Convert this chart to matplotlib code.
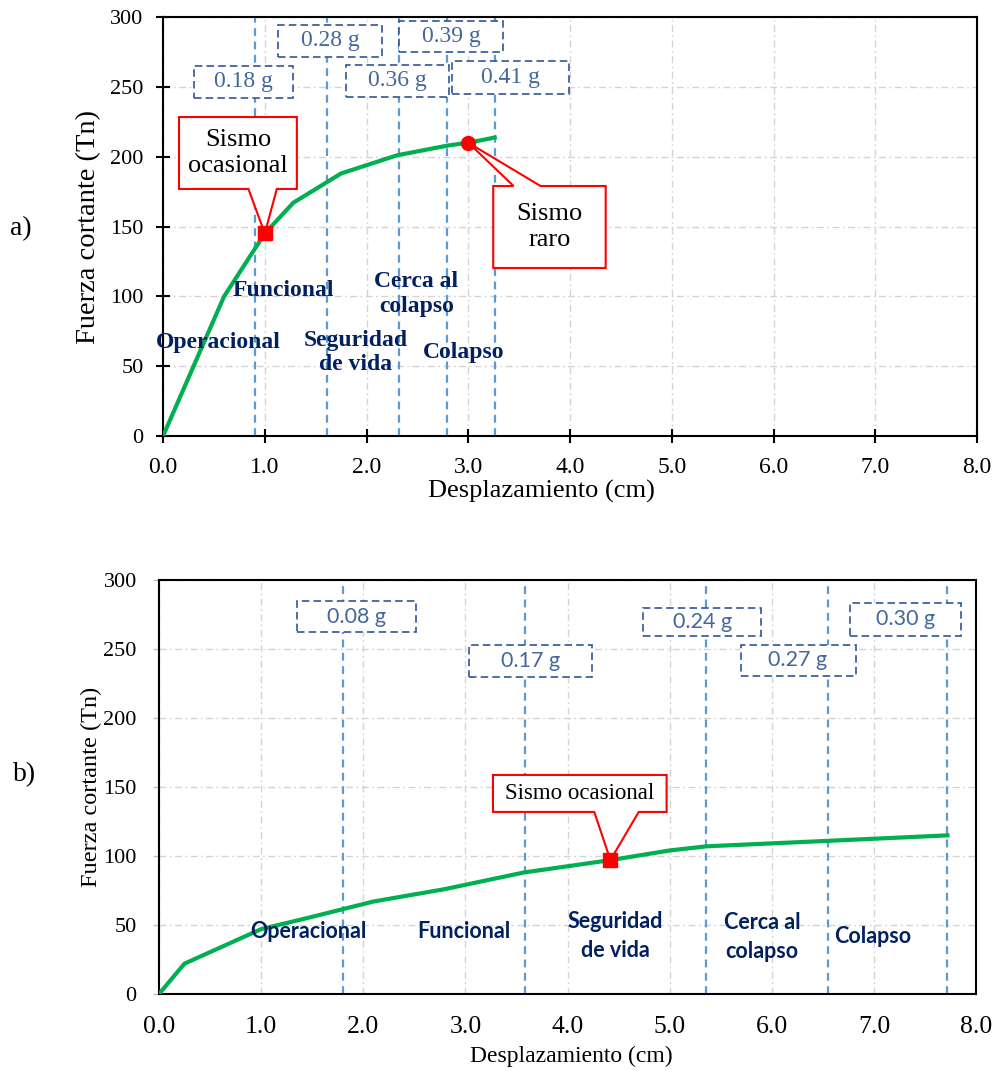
import matplotlib
matplotlib.use("Agg")
import matplotlib.pyplot as plt
from matplotlib.patches import Rectangle, Polygon

# ---------------- data ----------------
# Panel a: capacity curve
disp_a = [0.0, 0.6, 1.0, 1.28, 1.75, 2.3, 2.8, 3.0, 3.28]
shear_a = [0, 100, 145, 167, 188, 201, 208, 210, 214]
limits_a = [0.905, 1.61, 2.32, 2.79, 3.26]
pga_a = ["0.18 g", "0.28 g", "0.36 g", "0.39 g", "0.41 g"]
occasional_a = (1.0, 145)
rare_a = (3.0, 210)

# Panel b: capacity curve
disp_b = [0.0, 0.25, 1.0, 1.45, 2.1, 2.8, 3.57, 4.42, 5.0, 5.36, 6.56, 7.74]
shear_b = [0, 22, 47, 55, 67, 76, 88, 97, 104, 107, 111, 115]
limits_b = [1.80, 3.58, 5.36, 6.55, 7.72]
pga_b = ["0.08 g", "0.17 g", "0.24 g", "0.27 g", "0.30 g"]
occasional_b = (4.42, 97)

states = ["Operacional", "Funcional", "Seguridad\nde vida", "Cerca al\ncolapso", "Colapso"]
x_ticks = [0, 1, 2, 3, 4, 5, 6, 7, 8]
y_ticks = [0, 50, 100, 150, 200, 250, 300]
x_label = "Desplazamiento (cm)"
y_label = "Fuerza cortante (Tn)"

# ---------------- styles ----------------
SERIF = "Liberation Serif"
SANS = "Lato"
GREEN = "#00b050"
LIMIT_BLUE = "#5b9bd5"
BOX_EDGE = "#2f5597"
BOX_TEXT = "#44679a"
STATE_COLOR = "#002060"
GRID = "#d4d4d4"

# layout of the PGA boxes: centre x, centre y, width, height (data units)
box_a = [(0.79, 253.6, 0.98, 22.7), (1.64, 283.0, 1.02, 22.7),
         (2.305, 254.3, 1.01, 22.7), (2.83, 286.0, 1.02, 22.7),
         (3.415, 256.6, 1.15, 23.8)]
box_b = [(1.93, 273.2, 1.165, 22.5), (3.635, 241.3, 1.2, 23.2),
         (5.32, 269.6, 1.155, 20.3), (6.257, 241.7, 1.125, 22.5),
         (7.31, 271.4, 1.085, 23.9)]
# positions of the performance-state labels
state_pos_a = [(0.54, 66.6), (1.18, 104.5), (1.89, 60.0), (2.49, 101.7), (2.95, 60.0)]
state_pos_b = [(1.467, 45.1), (2.99, 45.0), (4.47, 42.0), (5.906, 41.3), (6.99, 41.5)]

fig = plt.figure(figsize=(9.96, 10.71), dpi=100)
ax_a = fig.add_axes([0.1637, 0.5929, 0.8173, 0.3912])
ax_b = fig.add_axes([0.1596, 0.0719, 0.8204, 0.3866])


def pga_box(ax, label, cx, cy, w, h, font, size):
    ax.add_patch(Rectangle((cx - w / 2, cy - h / 2), w, h, facecolor="white",
                           edgecolor=BOX_EDGE, linewidth=1.2,
                           linestyle=(0, (4.5, 2.5)), zorder=5))
    ax.text(cx, cy, label, ha="center", va="center", color=BOX_TEXT,
            fontsize=size, family=font, zorder=6)


def callout(ax, text, x0, y0, x1, y1, base, tip, side, size, spacing):
    if side == "bottom":
        pts = [(x0, y0), (base[0], y0), tip, (base[1], y0), (x1, y0),
               (x1, y1), (x0, y1)]
    else:
        pts = [(x0, y1), (base[0], y1), tip, (base[1], y1), (x1, y1),
               (x1, y0), (x0, y0)]
    ax.add_patch(Polygon(pts, closed=True, facecolor="white",
                         edgecolor="#ff0000", linewidth=1.5, zorder=7))
    ax.text((x0 + x1) / 2, (y0 + y1) / 2, text, ha="center", va="center",
            fontsize=size, family=SERIF, linespacing=spacing, zorder=8)


def base_axes(ax):
    ax.set_xlim(0, 8)
    ax.set_ylim(0, 300)
    ax.set_xticks(x_ticks)
    ax.set_xticklabels([f"{v:.1f}" for v in x_ticks])
    ax.set_yticks(y_ticks)
    for s in ax.spines.values():
        s.set_linewidth(1.5)
        s.set_color("black")
    ax.grid(True, color=GRID, linewidth=1.0, linestyle=(0, (5, 2.5, 1.2, 2.5)))
    ax.set_axisbelow(True)


# ---------------- panel a ----------------
base_axes(ax_a)
ax_a.tick_params(axis="both", direction="inout", length=10, width=1.5,
                 colors="black")
ax_a.tick_params(axis="x", labelsize=17, pad=10)
ax_a.tick_params(axis="y", labelsize=16, pad=9)
for lbl in ax_a.get_xticklabels() + ax_a.get_yticklabels():
    lbl.set_family(SERIF)
ax_a.set_xlabel(x_label, fontsize=19, family=SERIF)
ax_a.set_ylabel(y_label, fontsize=20.5, family=SERIF)
ax_a.xaxis.set_label_coords(0.465, -0.105)
ax_a.yaxis.set_label_coords(-0.076, 0.5)

for xv in limits_a:
    ax_a.axvline(xv, color=LIMIT_BLUE, linewidth=1.6, linestyle=(0, (3.5, 2.5)), zorder=2)
ax_a.plot(disp_a, shear_a, color=GREEN, linewidth=3, zorder=3, solid_capstyle="butt")
for (cx, cy, w, h), lab in zip(box_a, pga_a):
    pga_box(ax_a, lab, cx, cy, w, h, SERIF, 17)
for (tx, ty), lab in zip(state_pos_a, states):
    ax_a.text(tx, ty, lab, ha="center", va="center", fontsize=17, family=SERIF,
              fontweight="bold", color=STATE_COLOR, linespacing=1.2, zorder=4)

callout(ax_a, "Sismo\nocasional", 0.157, 176.9, 1.315, 228.4, (0.839, 1.118),
        occasional_a, "bottom", 19, 1.25)
callout(ax_a, "Sismo\nraro", 3.245, 120.3, 4.35, 179.0, (3.445, 3.71),
        rare_a, "top", 19, 1.25)
ax_a.plot(*occasional_a, marker="s", markersize=10, color="#ff0000", zorder=9)
ax_a.plot(*rare_a, marker="o", markersize=10, color="#ff0000", zorder=9)

# ---------------- panel b ----------------
base_axes(ax_b)
ax_b.tick_params(axis="x", length=0, labelsize=18.5, pad=16)
ax_b.tick_params(axis="y", direction="out", length=4, width=1.0,
                 color="#bfbfbf", labelsize=16, pad=12)
for lbl in ax_b.get_xticklabels() + ax_b.get_yticklabels():
    lbl.set_family(SERIF)
ax_b.set_xlabel(x_label, fontsize=17, family=SERIF)
ax_b.set_ylabel(y_label, fontsize=17.5, family=SERIF)
ax_b.xaxis.set_label_coords(0.5045, -0.124)
ax_b.yaxis.set_label_coords(-0.0698, 0.5)

for xv in limits_b:
    ax_b.axvline(xv, color=LIMIT_BLUE, linewidth=1.6, linestyle=(0, (3.5, 2.5)), zorder=2)
ax_b.plot(disp_b, shear_b, color=GREEN, linewidth=3, zorder=3, solid_capstyle="butt")
for (cx, cy, w, h), lab in zip(box_b, pga_b):
    pga_box(ax_b, lab, cx, cy, w, h, SANS, 15.5)
for (tx, ty), lab in zip(state_pos_b, states):
    ax_b.text(tx, ty, lab, ha="center", va="center", fontsize=15.5, family=SANS,
              fontweight="bold", color=STATE_COLOR, linespacing=1.45, zorder=4)

callout(ax_b, "Sismo ocasional", 3.27, 131.9, 4.97, 158.7, (4.262, 4.697),
        occasional_b, "bottom", 16.5, 1.0)
ax_b.plot(*occasional_b, marker="s", markersize=9.5, color="#ff0000", zorder=9)

fig.text(0.021, 0.787, "a)", ha="center", va="center", fontsize=20, family=SERIF)
fig.text(0.025, 0.2764, "b)", ha="center", va="center", fontsize=20, family=SERIF)

fig.savefig("out.png", dpi=100, facecolor="white")
